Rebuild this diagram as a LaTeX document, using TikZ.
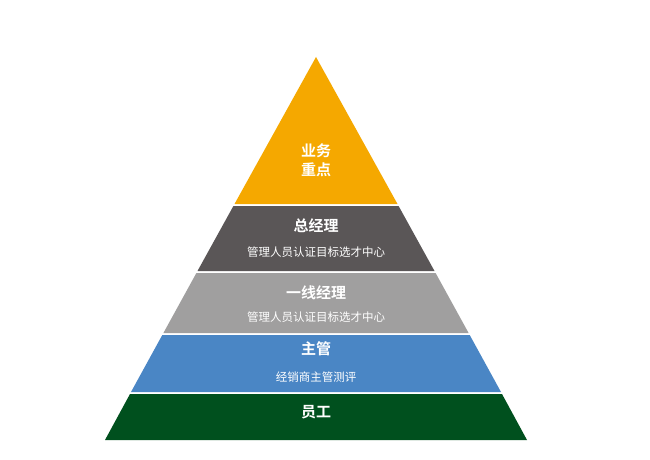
\documentclass[tikz,border=0pt]{standalone}
\usepackage{fontspec}
\newfontfamily\cjk{Noto Sans CJK SC}[BoldFont={Noto Sans CJK SC Bold}]
\definecolor{layerA}{RGB}{245,168,0}
\definecolor{layerB}{RGB}{90,86,87}
\definecolor{layerC}{RGB}{160,159,159}
\definecolor{layerD}{RGB}{74,134,197}
\definecolor{layerE}{RGB}{0,80,30}
\tikzset{every picture/.style={line width=0.75pt}}
\tikzset{
  title/.style={text=white,font=\cjk\bfseries\fontsize{15}{19}\selectfont,align=center},
  sub/.style={text=white,font=\cjk\fontsize{11.5}{14}\selectfont}
}
\begin{document}
\begin{tikzpicture}[x=1pt,y=1pt,yscale=-1,xscale=1]
	\useasboundingbox[fill=white] (0,0) rectangle (650,460);
	
	%Layers
	\fill [layerA] (316,57) -- (397.5,204) -- (234.5,204) -- cycle ;
	\fill [layerB] (233.4,206) -- (398.6,206) -- (434.5,271) -- (197.5,271) -- cycle ;
	\fill [layerC] (196.4,273) -- (435.6,273) -- (468.6,333) -- (163.4,333) -- cycle ;
	\fill [layerD] (162.3,335) -- (469.7,335) -- (501,392) -- (131,392) -- cycle ;
	\fill [layerE] (130,394) -- (502,394) -- (527,440) -- (105,440) -- cycle ;
	
	% Text Node
	\node [title] (t1) at (316,160) {业务\\重点};
	% Text Node
	\node [title] (t2) at (316,226) {总经理};
	\node [sub] (s2) at (316,252) {管理人员认证目标选才中心};
	% Text Node
	\node [title] (t3) at (316,293) {一线经理};
	\node [sub] (s3) at (316,317) {管理人员认证目标选才中心};
	% Text Node
	\node [title] (t4) at (316,349) {主管};
	\node [sub] (s4) at (316,377) {经销商主管测评};
	% Text Node
	\node [title] (t5) at (316,412) {员工};
\end{tikzpicture}
\end{document}
